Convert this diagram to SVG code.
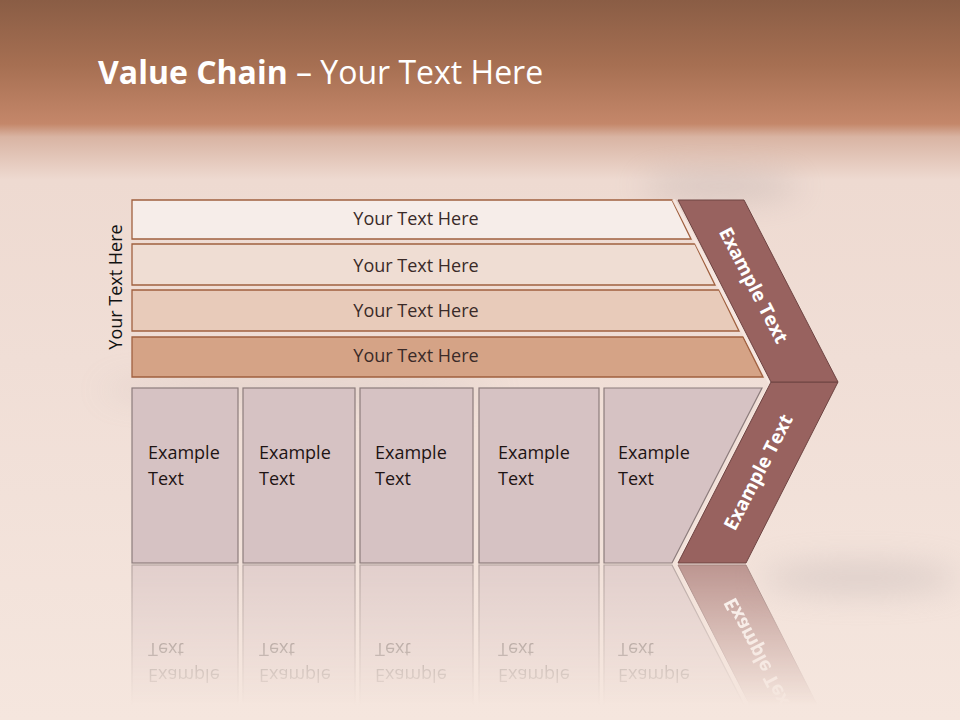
<svg xmlns="http://www.w3.org/2000/svg" xmlns:xlink="http://www.w3.org/1999/xlink" width="960" height="720" viewBox="0 0 960 720">
<defs>
<style>
.t{font-family:"Open Sans","Liberation Sans",sans-serif;}
.bar{stroke:#A0603F;stroke-width:1.3;}
.bartxt{font-size:18px;fill:#3a2a28;text-anchor:middle;}
.box{fill:#D6C2C3;stroke:#8C7C7C;stroke-width:1.2;}
.boxtxt{font-size:18px;fill:#1e1414;}
.chev{fill:#98625F;stroke:#6E4442;stroke-width:1;}
.chevtxt{font-size:19px;font-weight:bold;fill:#FFFFFF;text-anchor:middle;}
</style>
<linearGradient id="bg" x1="0" y1="0" x2="0" y2="720" gradientUnits="userSpaceOnUse">
<stop offset="0" stop-color="#8A5D45"/>
<stop offset="0.09" stop-color="#A66F52"/>
<stop offset="0.172" stop-color="#C4876A"/>
<stop offset="0.19" stop-color="#D9B4A3"/>
<stop offset="0.25" stop-color="#EEDAD1"/>
<stop offset="0.5" stop-color="#F0DED6"/>
<stop offset="1" stop-color="#F5E6DE"/>
</linearGradient>
<filter id="blur" filterUnits="userSpaceOnUse" x="0" y="100" width="960" height="620"><feGaussianBlur stdDeviation="16"/></filter>
<linearGradient id="fade" x1="0" y1="564" x2="0" y2="705" gradientUnits="userSpaceOnUse">
<stop offset="0" stop-color="#fff" stop-opacity="0.6"/>
<stop offset="1" stop-color="#fff" stop-opacity="0"/>
</linearGradient>
<mask id="reflmask" maskUnits="userSpaceOnUse" x="0" y="560" width="960" height="160">
<rect x="0" y="560" width="960" height="160" fill="url(#fade)"/>
</mask>
</defs>

<g id="background">
<rect x="0" y="0" width="960" height="720" fill="url(#bg)"/>
<ellipse cx="720" cy="186" rx="80" ry="12" fill="#B0A2A2" opacity="0.45" filter="url(#blur)"/>
<ellipse cx="300" cy="390" rx="200" ry="8" fill="#B8A8A6" opacity="0.4" filter="url(#blur)"/>
<ellipse cx="860" cy="578" rx="100" ry="14" fill="#B4A8A8" opacity="0.4" filter="url(#blur)"/>
</g>

<g id="title">
<text class="t" x="98" y="84" font-size="32" fill="#FFFFFF"><tspan font-weight="bold">Value Chain</tspan> – Your Text Here</text>
</g>

<g id="side-label">
<text class="t" transform="translate(122,287) rotate(-90)" font-size="18" fill="#111" text-anchor="middle">Your Text Here</text>
</g>

<g id="bar1">
<polygon class="bar" points="132,200 672,200 691,239 132,239" fill="#F6EDE9"/>
<text class="t bartxt" x="416" y="225">Your Text Here</text>
</g>
<g id="bar2">
<polygon class="bar" points="132,244 695,244 715,285 132,285" fill="#EFDDD3"/>
<text class="t bartxt" x="416" y="272">Your Text Here</text>
</g>
<g id="bar3">
<polygon class="bar" points="132,290 719,290 739,331 132,331" fill="#E8CBBA"/>
<text class="t bartxt" x="416" y="317">Your Text Here</text>
</g>
<g id="bar4">
<polygon class="bar" points="132,337 743,337 763,377 132,377" fill="#D5A386"/>
<text class="t bartxt" x="416" y="362">Your Text Here</text>
</g>

<g id="bottomrow">
<g id="chevron-lower-edge">
<polygon points="676,563 771,379 775,384 682,563" fill="#F7E8E2" opacity="0.8"/>
</g>
<g id="box1">
<rect class="box" x="132" y="388" width="106" height="175"/>
<text class="t boxtxt" x="148" y="459">Example<tspan x="148" y="485">Text</tspan></text>
</g>
<g id="box2">
<rect class="box" x="243" y="388" width="112" height="175"/>
<text class="t boxtxt" x="259" y="459">Example<tspan x="259" y="485">Text</tspan></text>
</g>
<g id="box3">
<rect class="box" x="360" y="388" width="113" height="175"/>
<text class="t boxtxt" x="375" y="459">Example<tspan x="375" y="485">Text</tspan></text>
</g>
<g id="box4">
<rect class="box" x="479" y="388" width="120" height="175"/>
<text class="t boxtxt" x="498" y="459">Example<tspan x="498" y="485">Text</tspan></text>
</g>
<g id="box5">
<polygon class="box" points="604,388 762,388 672,563 604,563"/>
<text class="t boxtxt" x="618" y="459">Example<tspan x="618" y="485">Text</tspan></text>
</g>
<g id="chevron-bottom-arm">
<polygon class="chev" points="771,382 838,382 746,563 678,563"/>
<text class="t chevtxt" transform="translate(758,472) rotate(-62.7)" dy="7">Example Text</text>
</g>
</g>

<g id="chevron">
<polygon points="675,199 771,379 768,383 672,200" fill="#F7E8E2" opacity="0.8"/>
<polygon class="chev" points="678,200 744,200 838,382 771,382"/>
<text class="t chevtxt" transform="translate(754,285) rotate(62.7)" dy="7">Example Text</text>
</g>

<g id="reflection" mask="url(#reflmask)">
<use xlink:href="#bottomrow" transform="translate(0,1128) scale(1,-1)"/>
</g>

<g id="connectors"/>
</svg>
